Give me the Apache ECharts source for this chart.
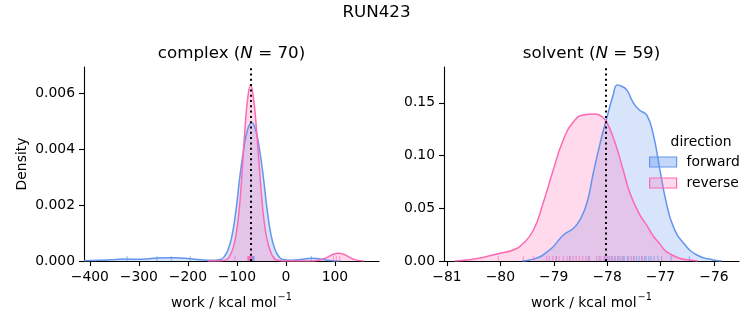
<!DOCTYPE html>
<html>
<head>
<meta charset="utf-8">
<script src="https://cdn.jsdelivr.net/npm/echarts@6/dist/echarts.min.js"></script>
<style>
html,body{margin:0;padding:0;background:#fff;}
#chart{width:753px;height:325px;}
</style>
</head>
<body>
<div id="chart"></div>
<script>
// ---- data ----
const suptitle = 'RUN423';
const panelNames = ['complex', 'solvent'];
const panelN = [70, 59];
const refLines = [-72, -78.02];

// complex: KDE curves
const complexFwdX = [-412,-380,-350,-325,-300,-280,-260,-240,-220,-200,-180,-160,-145,-134,-126,-118,-110,-102,-94,-86,-78,-70,-62,-54,-46,-38,-30,-22,-14,-6,10,30,52,70,90,110];
const complexFwdY = [0.00001,0.00003,0.00005,0.00007,0.00006,0.00008,0.00011,0.00012,0.00011,0.00009,0.00005,0.00003,0.00003,0.00005,0.00015,0.0004,0.0009,0.0018,0.0030,0.0040,0.0047,0.00495,0.0047,0.0040,0.0030,0.0018,0.0009,0.0004,0.00015,0.00005,0.00003,0.00005,0.0001,0.00007,0.00002,0];
const complexRevX = [-160,-132,-120,-114,-108,-102,-96,-90,-84,-78,-72,-66,-60,-54,-48,-42,-36,-30,-24,-16,-4,55,70,85,98,108,118,130,142,160];
const complexRevY = [0,0.00001,0.00006,0.0002,0.00045,0.0009,0.0017,0.0030,0.0046,0.0058,0.00629,0.0058,0.0047,0.0033,0.0020,0.0011,0.0006,0.00028,0.0001,0.00003,0,0,0.00004,0.00014,0.00025,0.00028,0.00024,0.00013,0.00004,0];
// complex: rug values
const complexFwdRug = [-324,-263,-234,-195,-76,-75,-74,-73,-72.5,-72,-71.5,-71,-70.5,-70,-69.5,-69,-68.5,-68,-67.5,-67,-66,-65,52];
const complexRevRug = [-104,-78,-77,-76,-75.5,-75,-74.5,-74,-73.5,-73,-72.5,-72,-71.5,-71,-70,-69,-24,97,103,110];

// solvent: KDE curves
const solventFwdX = [-79.6,-79.45,-79.26,-79.13,-79.01,-78.82,-78.63,-78.51,-78.38,-78.26,-78.13,-78.01,-77.89,-77.81,-77.72,-77.63,-77.51,-77.39,-77.26,-77.14,-77.01,-76.89,-76.76,-76.57,-76.32,-76.01,-75.85];
const solventFwdY = [0,0.001,0.004,0.0085,0.0136,0.0247,0.031,0.039,0.0547,0.0832,0.112,0.135,0.157,0.167,0.1655,0.162,0.150,0.143,0.1385,0.121,0.086,0.055,0.0326,0.017,0.0057,0.001,0];
const solventRevX = [-80.85,-80.6,-80.38,-80.2,-80.01,-79.76,-79.57,-79.38,-79.2,-79.01,-78.82,-78.63,-78.45,-78.23,-78.1,-78.01,-77.85,-77.7,-77.57,-77.39,-77.26,-77.14,-77.01,-76.89,-76.64,-76.45,-76.3];
const solventRevY = [0,0.0012,0.0028,0.005,0.0073,0.0104,0.0168,0.0294,0.0547,0.0863,0.115,0.132,0.1385,0.1395,0.137,0.132,0.112,0.0863,0.064,0.044,0.034,0.024,0.016,0.0088,0.0026,0.001,0];
// solvent: rug values
const solventFwdRug = [-78.95,-78.7,-78.35,-78.15,-78.05,-78.0,-77.95,-77.9,-77.85,-77.8,-77.76,-77.72,-77.68,-77.62,-77.55,-77.5,-77.45,-77.4,-77.35,-77.3,-77.27,-77.22,-77.18,-77.12,-77.05,-76.98,-76.8,-76.46];
const solventRevRug = [-80.04,-79.57,-79.38,-79.13,-79.08,-79.02,-78.96,-78.9,-78.82,-78.75,-78.7,-78.64,-78.58,-78.52,-78.46,-78.4,-78.33,-78.2,-78.12,-78.06,-78.02,-77.98,-77.92,-77.86,-77.8,-77.7,-77.6,-77.5,-77.35];

// tick labels
const complexXTicks = [-400,-300,-200,-100,0,100];
const complexYTicks = [0,0.002,0.004,0.006];
const solventXTicks = [-81,-80,-79,-78,-77,-76];
const solventYTicks = [0,0.05,0.10,0.15];
const directions = ['forward','reverse'];

// ---- chart ----
const FONT = 'DejaVu Sans';
const BLUE = '#6495ED', PINK = '#FF69B4';
const zip = (xs, ys) => xs.map((x, i) => [x, ys[i]]);
const minus = s => String(s).replace('-', '\u2212');

function xAxis(grid, min, max, ticks) {
  return {
    type: 'value', gridIndex: grid, min: min, max: max,
    name: '{a|work / kcal mol}{s|\u22121}',
    nameLocation: 'middle', nameGap: 31,
    nameTextStyle: { rich: {
      a: { fontFamily: FONT, fontSize: 13.9, color: '#000', lineHeight: 18, verticalAlign: 'bottom' },
      s: { fontFamily: FONT, fontSize: 9.7, color: '#000', lineHeight: 18, verticalAlign: 'top', padding: [0,0,0,1] }
    }},
    axisLine: { show: true, onZero: false, lineStyle: { color: '#000', width: 1.1 } },
    axisTick: { show: true, length: 5, inside: false, customValues: ticks, lineStyle: { color: '#000', width: 1.1 } },
    axisLabel: { customValues: ticks, margin: 9, color: '#000', fontFamily: FONT, fontSize: 13.9,
      formatter: v => minus(v) },
    splitLine: { show: false }
  };
}
function yAxis(grid, max, ticks, dec, name) {
  return {
    type: 'value', gridIndex: grid, min: 0, max: max,
    name: name || '', nameLocation: 'middle', nameGap: 55, nameRotate: 90,
    nameTextStyle: { fontFamily: FONT, fontSize: 13.9, color: '#000' },
    axisLine: { show: true, onZero: false, lineStyle: { color: '#000', width: 1.1 } },
    axisTick: { show: true, length: 5, customValues: ticks, lineStyle: { color: '#000', width: 1.1 } },
    axisLabel: { customValues: ticks, margin: 9, color: '#000', fontFamily: FONT, fontSize: 13.9,
      formatter: v => v.toFixed(dec) },
    splitLine: { show: false }
  };
}
function kde(name, color, fill, grid, xs, ys, ref) {
  const s = {
    name: name, type: 'line', xAxisIndex: grid, yAxisIndex: grid,
    data: zip(xs, ys), showSymbol: false, smooth: 0.5,
    lineStyle: { color: color, width: 1.5 }, itemStyle: { color: color },
    areaStyle: { color: fill, opacity: 1, origin: 'start' }, z: 2, silent: true
  };
  if (ref !== undefined) {
    s.markLine = { symbol: 'none', silent: true, label: { show: false }, animation: false,
      lineStyle: { color: '#000', type: [2, 3.3], width: 2 }, data: [{ xAxis: ref }] };
  }
  return s;
}
function rug(name, color, grid, vals) {
  return {
    name: name, type: 'scatter', xAxisIndex: grid, yAxisIndex: grid,
    data: vals.map(v => [v, 0]), symbol: 'rect', symbolSize: [1.2, 5], symbolOffset: [0, -2.5],
    itemStyle: { color: color, opacity: 0.55 }, z: 4, silent: true
  };
}

const chart = echarts.init(document.getElementById('chart'), null, { renderer: 'canvas' });
const titleRich = {
  n: { fontFamily: FONT, fontSize: 16.7, color: '#000' },
  i: { fontFamily: FONT, fontSize: 16.7, color: '#000', fontStyle: 'italic' }
};
chart.setOption({
  animation: false,
  backgroundColor: '#fff',
  grid: [
    { left: 84, top: 67, width: 295, height: 194 },
    { left: 444, top: 67, width: 295, height: 194 }
  ],
  xAxis: [
    xAxis(0, -412, 190, complexXTicks),
    xAxis(1, -81.056, -75.53, solventXTicks)
  ],
  yAxis: [
    yAxis(0, 0.00693, complexYTicks, 3, 'Density'),
    yAxis(1, 0.184, solventYTicks, 2)
  ],
  legend: {
    orient: 'vertical', left: 649, top: 155, itemWidth: 27, itemHeight: 10, itemGap: 7,
    padding: 0, selectedMode: false,
    textStyle: { fontFamily: FONT, fontSize: 13.9, color: '#000', padding: [0, 0, 0, 5] },
    data: [
      { name: directions[0], icon: 'rect', itemStyle: { color: 'rgba(100,149,237,0.38)', borderColor: BLUE, borderWidth: 1.2 } },
      { name: directions[1], icon: 'rect', itemStyle: { color: 'rgba(255,105,180,0.25)', borderColor: PINK, borderWidth: 1.2 } }
    ]
  },
  graphic: [
    { type: 'text', x: 376.5, y: 13, style: { text: suptitle, fontFamily: FONT, fontSize: 16.7, fill: '#000', align: 'center', verticalAlign: 'middle' } },
    { type: 'text', x: 231.5, y: 54, style: { text: '{n|' + panelNames[0] + ' (}{i|N}{n| = ' + panelN[0] + ')}', rich: titleRich, align: 'center', verticalAlign: 'middle' } },
    { type: 'text', x: 591.5, y: 54, style: { text: '{n|' + panelNames[1] + ' (}{i|N}{n| = ' + panelN[1] + ')}', rich: titleRich, align: 'center', verticalAlign: 'middle' } },
    { type: 'text', x: 701, y: 142, style: { text: 'direction', fontFamily: FONT, fontSize: 13.9, fill: '#000', align: 'center', verticalAlign: 'middle' } }
  ],
  series: [
    kde(directions[0], BLUE, 'rgba(100,149,237,0.25)', 0, complexFwdX, complexFwdY),
    kde(directions[1], PINK, 'rgba(255,105,180,0.25)', 0, complexRevX, complexRevY, refLines[0]),
    rug('forward rug', BLUE, 0, complexFwdRug),
    rug('reverse rug', PINK, 0, complexRevRug),
    kde(directions[0], BLUE, 'rgba(100,149,237,0.25)', 1, solventFwdX, solventFwdY),
    kde(directions[1], PINK, 'rgba(255,105,180,0.25)', 1, solventRevX, solventRevY, refLines[1]),
    rug('forward rug', BLUE, 1, solventFwdRug),
    rug('reverse rug', PINK, 1, solventRevRug)
  ]
});
</script>
</body>
</html>
